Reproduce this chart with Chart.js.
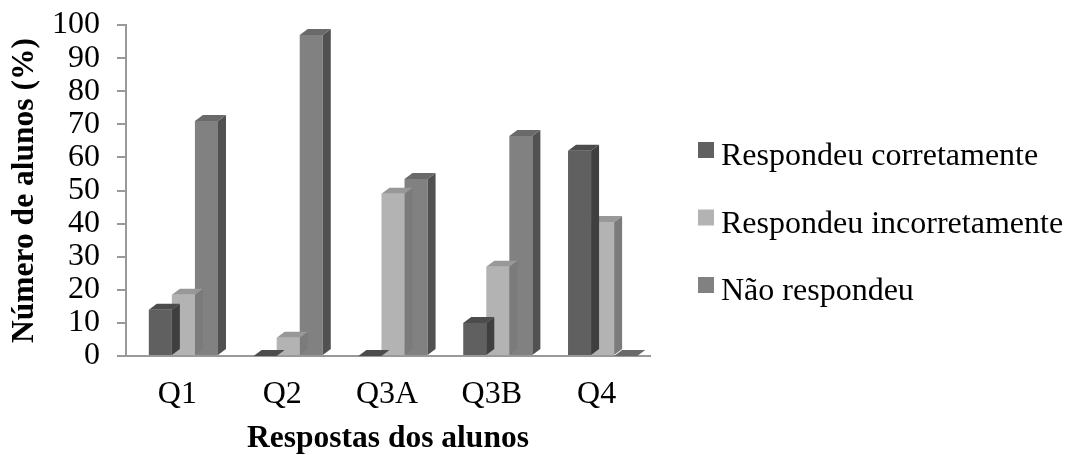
<!DOCTYPE html>
<html>
<head>
<meta charset="utf-8">
<script src="https://cdn.jsdelivr.net/npm/chart.js@4.4.1/dist/chart.umd.min.js"></script>
<style>
  html, body { margin: 0; padding: 0; background: #ffffff; }
  canvas { display: block; }
</style>
</head>
<body>
<canvas id="chart" width="1067" height="455"></canvas>
<script>
// Question categories and percentage of students per answer type
const categories = ['Q1', 'Q2', 'Q3A', 'Q3B', 'Q4'];
const seriesNames = ['Respondeu corretamente', 'Respondeu incorretamente', 'Não respondeu'];
const respondeuCorretamente = [14, 0, 0, 10, 62];
const respondeuIncorretamente = [18.5, 5.5, 49, 27, 40.5];
const naoRespondeu = [71, 97, 53.5, 66.5, 0];
const yTickValues = [0, 10, 20, 30, 40, 50, 60, 70, 80, 90, 100];

// Face shades for each series: front, right side, top
const shades = [
  { front: '#606060', side: '#3f3f3f', top: '#4c4c4c' },
  { front: '#b3b3b3', side: '#7b7b7b', top: '#989898' },
  { front: '#818181', side: '#515151', top: '#6a6a6a' }
];

const DEPTH_X = 8;
const DEPTH_Y = 6;
const SERIF = '"Liberation Serif", "Times New Roman", serif';

// Pushes the bar positions a little to the right of the axis frame,
// as in a 3-D column chart seen slightly from the side.
const frontShift = {
  id: 'frontShift',
  afterLayout(chart) {
    const x = chart.scales.x;
    x._startPixel += 5;
    x._endPixel += 5;
  }
};

// Extrudes each bar: right side face and top face behind the front face.
const extrude = {
  id: 'extrude',
  afterDatasetDraw(chart, args) {
    const meta = chart.getDatasetMeta(args.index);
    const shade = shades[args.index];
    const ctx = chart.ctx;
    ctx.save();
    meta.data.forEach((bar) => {
      const p = bar.getProps(['x', 'y', 'base', 'width'], true);
      const left = p.x - p.width / 2;
      const right = p.x + p.width / 2;
      const top = Math.min(p.y, p.base);
      const bottom = p.base;
      // side
      ctx.fillStyle = shade.side;
      ctx.beginPath();
      ctx.moveTo(right, top);
      ctx.lineTo(right + DEPTH_X, top - DEPTH_Y);
      ctx.lineTo(right + DEPTH_X, bottom - DEPTH_Y);
      ctx.lineTo(right, bottom);
      ctx.closePath();
      ctx.fill();
      // top
      ctx.fillStyle = shade.top;
      ctx.beginPath();
      ctx.moveTo(left, top);
      ctx.lineTo(right, top);
      ctx.lineTo(right + DEPTH_X, top - DEPTH_Y);
      ctx.lineTo(left + DEPTH_X, top - DEPTH_Y);
      ctx.closePath();
      ctx.fill();
    });
    ctx.restore();
  }
};

// Legend on the right: small square marker above-left of each label
const sideLegend = {
  id: 'sideLegend',
  afterDraw(chart) {
    const ctx = chart.ctx;
    const x0 = 698;
    const firstBaseline = 165;
    const rowGap = 67.5;
    ctx.save();
    ctx.font = '32px ' + SERIF;
    ctx.textBaseline = 'alphabetic';
    ctx.textAlign = 'left';
    chart.data.datasets.forEach((ds, i) => {
      const baseline = firstBaseline + i * rowGap;
      ctx.fillStyle = ds.backgroundColor;
      ctx.fillRect(x0, baseline - 23, 16, 16);
      ctx.fillStyle = '#000000';
      ctx.fillText(ds.label, 721, baseline);
    });
    ctx.restore();
  }
};

const seriesValues = [respondeuCorretamente, respondeuIncorretamente, naoRespondeu];

new Chart(document.getElementById('chart'), {
  type: 'bar',
  data: {
    labels: categories,
    datasets: seriesValues.map((values, i) => ({
      label: seriesNames[i],
      data: values,
      backgroundColor: shades[i].front,
      borderWidth: 0,
      categoryPercentage: 0.66,
      barPercentage: 1.0
    }))
  },
  options: {
    responsive: false,
    animation: false,
    devicePixelRatio: 1,
    layout: { padding: { top: 25, right: 417, bottom: 0, left: 0 } },
    plugins: {
      legend: { display: false },
      tooltip: { enabled: false }
    },
    scales: {
      x: {
        grid: { display: false, drawTicks: false },
        border: { display: true, color: '#999999', width: 2 },
        ticks: {
          color: '#000000',
          font: { family: SERIF, size: 32 },
          padding: 19,
          labelOffset: -6,
          maxRotation: 0
        },
        title: {
          display: true,
          text: 'Respostas dos alunos',
          color: '#000000',
          font: { family: SERIF, size: 31.5, weight: 'bold' },
          padding: { top: 0, bottom: -3 }
        },
        afterFit(scale) {
          scale.height = 99;
          scale.paddingLeft = 0;
          scale.paddingRight = 0;
        }
      },
      y: {
        min: 0,
        max: 100,
        afterBuildTicks(scale) {
          scale.ticks = yTickValues.map((v) => ({ value: v }));
        },
        grid: {
          drawOnChartArea: false,
          drawTicks: true,
          tickLength: 9,
          color: '#999999',
          lineWidth: 2
        },
        border: { display: true, color: '#999999', width: 2 },
        ticks: {
          color: '#000000',
          font: { family: SERIF, size: 32 },
          padding: 17,
          autoSkip: false
        },
        title: {
          display: true,
          text: 'Número de alunos (%)',
          color: '#000000',
          font: { family: SERIF, size: 31.5, weight: 'bold' },
          padding: { top: 6, bottom: 0 }
        },
        afterFit(scale) {
          scale.width = 126;
          scale.paddingTop = 0;
          scale.paddingBottom = 0;
        }
      }
    }
  },
  plugins: [frontShift, extrude, sideLegend]
});
</script>
</body>
</html>
